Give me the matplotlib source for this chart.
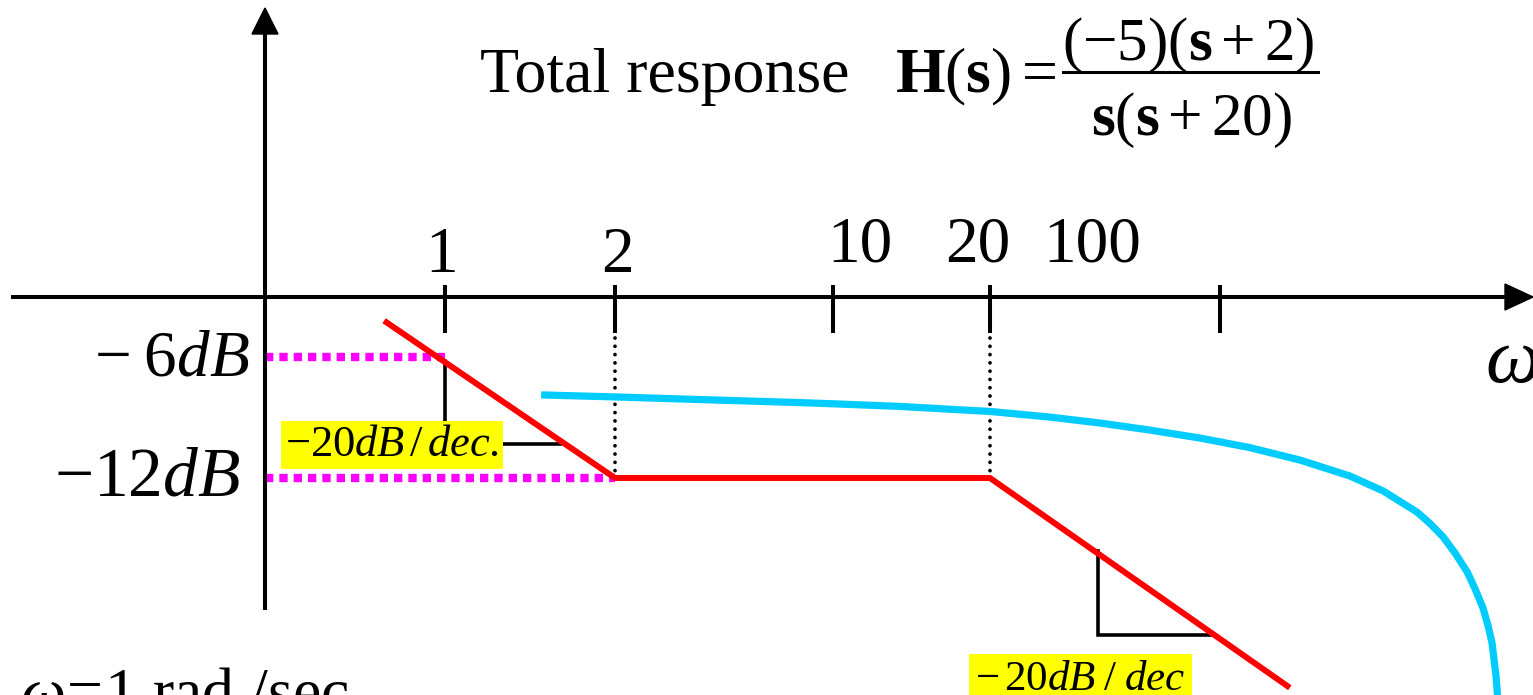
import numpy as np
import matplotlib
matplotlib.use("Agg")
import matplotlib.pyplot as plt
import matplotlib.transforms as mtransforms
from matplotlib.patches import Polygon

plt.rcParams['font.family'] = ['Liberation Serif', 'DejaVu Serif']
plt.rcParams['mathtext.fontset'] = 'custom'
plt.rcParams['mathtext.rm'] = 'Liberation Serif'
plt.rcParams['mathtext.it'] = 'Liberation Serif:italic'
plt.rcParams['mathtext.bf'] = 'Liberation Serif:bold'

# ---------------- data ----------------
tick_omegas = [1, 2, 10, 20, 100]
tick_labels = ["1", "2", "10", "20", "100"]
db_levels = [-6, -12]
db_labels = [r"$-\;6dB$", r"$-12dB$"]

# asymptotic (straight-line) approximation
asym_omega = [0.78, 2, 20, 163]
asym_db = [-4.2, -12.0, -12.0, -22.4]

# actual total response (cyan curve)
resp_omega = [1.48, 2, 3.74, 7.8, 10, 13.4, 20, 30.4, 43, 61, 87, 123, 175,
              248, 313, 397, 435, 477, 518, 564, 596, 630, 653, 671, 690, 697, 703]
resp_db = [-7.88, -7.98, -8.11, -8.26, -8.32, -8.45, -8.70, -8.98, -9.27,
           -9.62, -10.02, -10.49, -11.11, -11.90, -12.64, -13.69, -14.26, -14.93,
           -15.72, -16.66, -17.50, -18.45, -19.34, -20.18, -21.82, -22.76, -23.75]

# slope triangles (-20 dB/dec)
tri1_omega = [1, 1, 1.6]
tri1_db = [-6.2, -10.3, -10.3]
tri2_omega = [42.6, 42.6, 94.6]
tri2_db = [-15.6, -19.8, -19.8]

# ---------------- layout ----------------
W, H = 1533, 695
fig = plt.figure(figsize=(W / 100, H / 100), dpi=100)

# schematic frequency axis: anchor positions of the tick marks (pixels)
_LOG_ANCH = np.log10(np.array(tick_omegas, float))
_PX_ANCH = np.array([445, 615, 833, 990, 1220], float)


def _pw(x, xs, ys):
    x = np.asarray(x, float)
    y = np.interp(x, xs, ys)
    lo = x < xs[0]
    hi = x > xs[-1]
    y = np.where(lo, ys[0] + (x - xs[0]) * (ys[1] - ys[0]) / (xs[1] - xs[0]), y)
    y = np.where(hi, ys[-1] + (x - xs[-1]) * (ys[-1] - ys[-2]) / (xs[-1] - xs[-2]), y)
    return y


def fwd(w):
    w = np.clip(np.asarray(w, float), 1e-12, None)
    return _pw(np.log10(w), _LOG_ANCH, _PX_ANCH)


def inv(p):
    return 10 ** _pw(p, _PX_ANCH, _LOG_ANCH)


# dB axis: -6 dB at y=357 px, -12 dB at y=478 px
PX_PER_DB = (478 - 357) / 6.0
Y0 = 357 - 6 * PX_PER_DB


def db_of_px(y):
    return (Y0 - y) / PX_PER_DB


ax = fig.add_axes([0, 0, 1, 1])
ax.set_xscale('function', functions=(fwd, inv))
ax.set_xlim(float(inv(0)), float(inv(W)))
ax.set_ylim(db_of_px(H), db_of_px(0))
ax.axis('off')

lay = fig.add_axes([0, 0, 1, 1])
lay.set_xlim(0, W)
lay.set_ylim(H, 0)
lay.axis('off')
lay.patch.set_alpha(0)

blend = mtransforms.blended_transform_factory(ax.transData, lay.transData)

YAXIS_X = 265
XAXIS_Y = 297

# axes with arrows
lay.plot([YAXIS_X, YAXIS_X], [610, 30], color='black', lw=2.9, solid_capstyle='butt')
lay.add_patch(Polygon([[YAXIS_X, 8], [YAXIS_X - 13, 34], [YAXIS_X + 13, 34]],
                      closed=True, color='black'))
lay.plot([11, 1508], [XAXIS_Y, XAXIS_Y], color='black', lw=2.9, solid_capstyle='butt')
lay.add_patch(Polygon([[1533, XAXIS_Y], [1505, XAXIS_Y - 13], [1505, XAXIS_Y + 13]],
                      closed=True, color='black'))

# ticks
for w in tick_omegas:
    ax.plot([w, w], [285, 333], color='black', lw=2.9, transform=blend,
            solid_capstyle='butt')

# tick labels
label_base = [272, 272, 261, 261, 261]
label_x = [442, 617, 860, 978, 1092]
for lab, x, yb in zip(tick_labels, label_x, label_base):
    lay.text(x, yb, lab, fontsize=47, ha='center', va='baseline')

# dotted verticals at corner frequencies
for w in [2, 20]:
    ax.plot([w, w], [db_of_px(338), -12], color='black', lw=2.7,
            linestyle=(0, (0.01, 2.2)), dash_capstyle='round')

# magenta dotted level guides
w_yaxis = float(inv(YAXIS_X))
for lvl, w_end in zip(db_levels, [1, 2]):
    ax.plot([w_yaxis, w_end], [lvl, lvl], color='#FF00FF', lw=6.0,
            linestyle=(0, (1, 0.72)), dash_capstyle='butt')

# slope triangles
ax.plot(tri1_omega, tri1_db, color='black', lw=2.6, solid_joinstyle='miter')
ax.plot(tri2_omega, tri2_db, color='black', lw=2.6, solid_joinstyle='miter')

# curves
ax.plot(resp_omega, resp_db, color='#00CCFF', lw=5.2, solid_capstyle='butt',
        solid_joinstyle='round', zorder=3)
ax.plot(asym_omega, asym_db, color='#FF0000', lw=4.3, solid_capstyle='butt', zorder=4)

# dB labels
lay.text(250, 375, db_labels[0], fontsize=47, ha='right', va='baseline')
lay.text(240, 496, db_labels[1], fontsize=50, ha='right', va='baseline')

# slope annotations (yellow)
lay.text(285, 456, r"$-20dB\,/\,dec.$", fontsize=32, ha='left', va='baseline',
         bbox=dict(boxstyle='square,pad=0.1', fc='#FFFF00', ec='none'), zorder=10)
lay.text(975, 690, r"$-\,20dB\;/\;dec$", fontsize=31, ha='left', va='baseline',
         bbox=dict(boxstyle='square,pad=0.15', fc='#FFFF00', ec='none'), zorder=10)

# title and transfer function
lay.text(480, 92, "Total response", fontsize=46, ha='left', va='baseline')
lay.text(895, 92, r"$\mathbf{H}(\mathbf{s})=$", fontsize=46, ha='left', va='baseline')
lay.text(1188, 60, r"$(-5)(\mathbf{s}+2)$", fontsize=44, ha='center', va='baseline')
lay.plot([1063, 1318], [72, 72], color='black', lw=2.2)
lay.text(1191, 135, r"$\mathbf{s}(\mathbf{s}+20)$", fontsize=44, ha='center', va='baseline')

# omega axis label and bottom note
lay.text(1485, 382, r"$\omega$", fontsize=56, ha='left', va='baseline')
lay.text(20, 712, r"$\omega\!=\!\mathit{1}$ rad /sec", fontsize=46, ha='left', va='baseline')

fig.savefig("out.png", dpi=100)
